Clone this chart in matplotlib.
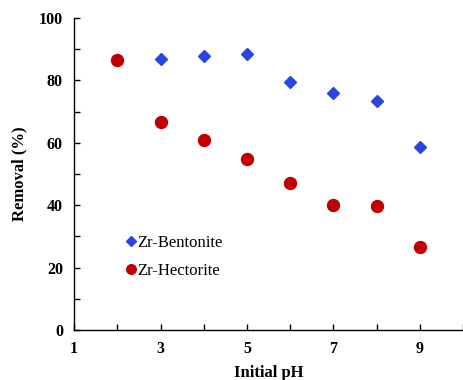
import matplotlib
matplotlib.use("Agg")
import matplotlib.pyplot as plt
from matplotlib.ticker import MultipleLocator

plt.rcParams['font.family'] = ['Liberation Serif', 'DejaVu Serif']

ph = [2, 3, 4, 5, 6, 7, 8, 9]
bentonite = [86.5, 87.0, 87.8, 88.4, 79.4, 76.1, 73.3, 58.7]
hectorite = [86.4, 66.8, 60.9, 54.8, 47.0, 40.1, 39.9, 26.5]
x_ticks = [1, 3, 5, 7, 9]
y_ticks = [0, 20, 40, 60, 80, 100]

fig = plt.figure(figsize=(4.63, 3.80), dpi=100)
ax = fig.add_axes([0.160, 0.1316, 0.840, 0.821])

ax.plot(ph, bentonite, linestyle='none', marker='D', markersize=6.2,
        color='#2B45E0', label='Zr-Bentonite', zorder=2)
ax.plot(ph, hectorite, linestyle='none', marker='o', markersize=8.6,
        color='#C00000', label='Zr-Hectorite', zorder=3)

ax.set_xlim(1, 10)
ax.set_ylim(0, 100)
ax.set_xticks(x_ticks)
ax.set_yticks(y_ticks)
ax.xaxis.set_minor_locator(MultipleLocator(1))
ax.yaxis.set_minor_locator(MultipleLocator(10))
ax.tick_params(which='both', direction='in', width=1, colors='black')
ax.tick_params(which='major', length=4, labelsize=11.5, pad=8)
ax.tick_params(which='minor', length=4)
for lab in ax.get_xticklabels() + ax.get_yticklabels():
    lab.set_fontweight('bold')

for side in ('top', 'right'):
    ax.spines[side].set_visible(False)
for side in ('left', 'bottom'):
    ax.spines[side].set_linewidth(1)

ax.set_xlabel('Initial pH', fontsize=12, fontweight='bold', labelpad=6)
ax.set_ylabel('Removal (%)', fontsize=12, fontweight='bold', labelpad=8)

ax.legend(loc='lower left', bbox_to_anchor=(0.095, 0.115), frameon=False,
          markerscale=0.8, handlelength=0.6, handletextpad=0.1,
          fontsize=12, labelspacing=0.75)

fig.savefig('out.png', dpi=100)
